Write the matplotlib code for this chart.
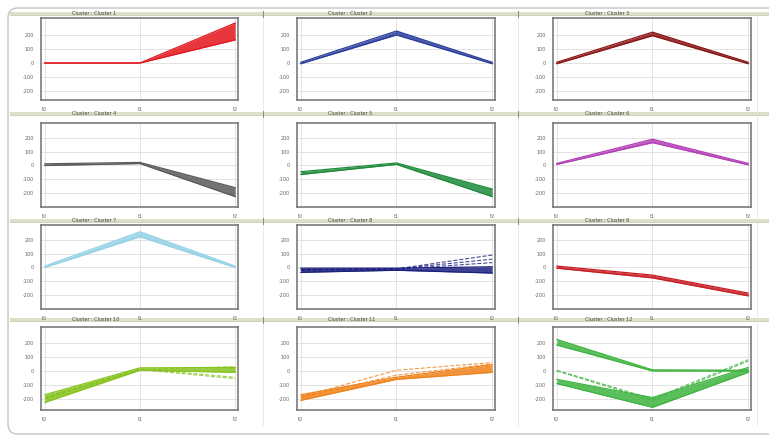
import numpy as np
import matplotlib
matplotlib.use("Agg")
import matplotlib.pyplot as plt
from matplotlib.patches import FancyBboxPatch, Rectangle

W, H = 769, 440

# time points and labels
x = [0, 1, 2]
xlabels = ["t0", "t1", "t2"]
yticks = [-200, -100, 0, 100, 200]

titles = ["Cluster : Cluster 1", "Cluster : Cluster 2", "Cluster : Cluster 3",
          "Cluster : Cluster 4", "Cluster : Cluster 5", "Cluster : Cluster 6",
          "Cluster : Cluster 7", "Cluster : Cluster 8", "Cluster : Cluster 9",
          "Cluster : Cluster 10", "Cluster : Cluster 11", "Cluster : Cluster 12"]

colors = ["#e3141b", "#2b3e9c", "#8a1414", "#5a5a5a", "#1d8a3a", "#b23fb6",
          "#93d2e6", "#1b1f7e", "#c71e24", "#86c41f", "#f0821a", "#3fb440"]

# bands (low, high) per panel; several bands for split clusters
bands = {
    0: [([0, 0, 165], [0, 0, 285])],
    1: [([-5, 200, -5], [5, 228, 5])],
    2: [([-5, 195, -5], [5, 220, 5])],
    3: [([0, 14, -225], [12, 22, -160])],
    4: [([-65, 8, -225], [-45, 18, -170])],
    5: [([8, 165, 5], [15, 190, 15])],
    6: [([0, 222, 0], [10, 258, 10])],
    7: [([-35, -20, -40], [-5, -5, 5])],
    8: [([-5, -75, -205], [10, -55, -185])],
    9: [([-225, 5, -10], [-170, 22, 25])],
    10: [([-210, -60, -10], [-170, -45, 45])],
    11: [([185, 0, 0], [225, 8, 5]), ([-90, -260, -10], [-60, -190, 25])],
}

# single stray lines (dashed) per panel
extra = {
    7: [[-15, -10, 90], [-15, -10, 60], [-20, -12, 35]],
    9: [[-200, 10, -55], [-190, 15, -45], [-195, 12, 30]],
    10: [[-185, 5, 60], [-190, -30, 50]],
    11: [[5, -200, 80], [0, -210, 70]],
}

ylims = [(-264, 321), (-300, 307), (-300, 307), (-279, 314)]

col_x = [(41, 238), (297, 495), (553, 751)]
row_y = [(18, 100), (123, 207), (225, 309), (327, 410)]
bar_y = [12, 112, 219, 318]
title_x = [72, 328, 585]

fig = plt.figure(figsize=(W / 100, H / 100), dpi=100)
fig.patch.set_facecolor("white")

bg = fig.add_axes([0, 0, 1, 1])
bg.set_xlim(0, W)
bg.set_ylim(H, 0)
bg.axis("off")
bg.add_patch(FancyBboxPatch((8, 8), 800, 426, boxstyle="round,pad=0,rounding_size=10",
                            fc="white", ec="#c4c4c4", lw=1.0))
for xv in [263, 518, 757]:
    bg.plot([xv, xv], [14, 425], color="#e6e6e6", lw=0.6)
for r, yb in enumerate(bar_y):
    bg.add_patch(Rectangle((10, yb), 759, 3.5, fc="#dedfc9", ec="none"))
    bg.plot([10, 769], [yb + 3.5, yb + 3.5], color="#c9caad", lw=0.6)
    for xv in [263, 518]:
        bg.plot([xv, xv], [yb - 1, yb + 5], color="#888888", lw=0.7)

for i in range(12):
    r, c = divmod(i, 3)
    x0, x1 = col_x[c]
    y0, y1 = row_y[r]
    ax = fig.add_axes([x0 / W, 1 - y1 / H, (x1 - x0) / W, (y1 - y0) / H])
    ax.set_xlim(-0.04, 2.03)
    ax.set_ylim(*ylims[r])
    ax.set_yticks(yticks)
    ax.set_yticklabels([str(v) for v in yticks])
    ax.set_xticks(x)
    ax.set_xticklabels(xlabels)
    ax.tick_params(labelsize=3.5, length=0, pad=5, colors="#666666")
    ax.grid(True, color="#dedede", lw=0.6)
    ax.set_axisbelow(True)
    for s in ax.spines.values():
        s.set_color("#7a7a7a")
        s.set_linewidth(1.2)
    col = colors[i]
    for lo, hi in bands[i]:
        ax.fill_between(x, lo, hi, color=col, alpha=0.85, lw=0)
        ax.plot(x, lo, color=col, lw=0.9)
        ax.plot(x, hi, color=col, lw=0.9)
    for ln in extra.get(i, []):
        ax.plot(x, ln, color=col, lw=0.8, ls="--", alpha=0.8)
    fig.text(title_x[c] / W, 1 - (bar_y[r] + 1.7) / H, titles[i], fontsize=3.5,
             color="#444444", va="center", ha="left")

fig.savefig("out.png", dpi=100)
